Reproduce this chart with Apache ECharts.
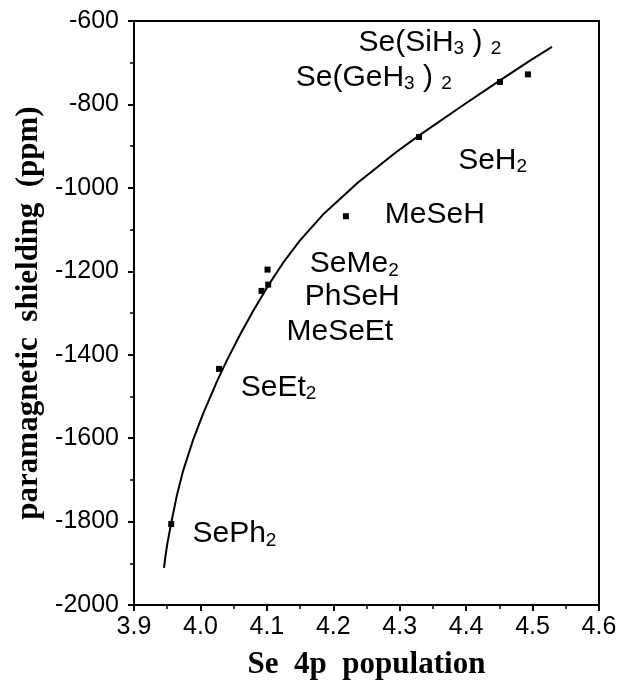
<!DOCTYPE html>
<html>
<head>
<meta charset="utf-8">
<script src="https://cdn.jsdelivr.net/npm/echarts@6/dist/echarts.min.js"></script>
<style>
html,body{margin:0;padding:0;background:#fff;}
#chart{width:632px;height:680px;}
</style>
</head>
<body>
<div id="chart"></div>
<script>
// Data points (Se 4p population, paramagnetic shielding ppm)
const compounds = ['SePh2','SeEt2','MeSeEt','PhSeH','SeMe2','MeSeH','SeH2','Se(GeH3)2','Se(SiH3)2'];
const pointX = [3.956, 4.028, 4.092, 4.102, 4.101, 4.219, 4.329, 4.451, 4.493];
const pointY = [-1806, -1434, -1247, -1232, -1196, -1068, -878, -746, -728];

// Fitted curve
const curveX = [3.9452, 3.9474, 3.9504, 3.9557, 3.9647, 3.9738, 3.9888, 4.0039, 4.0249, 4.0400, 4.0596, 4.0791, 4.1017, 4.1243, 4.1499, 4.1845, 4.2372, 4.2959, 4.3305, 4.3953, 4.4464, 4.4961, 4.5292];
const curveY = [-1911, -1882, -1851, -1806, -1736, -1679, -1605, -1542, -1464, -1413, -1352, -1296, -1235, -1180, -1126, -1064, -987, -913, -873, -802, -747, -695, -662];

// Compound label texts and their anchors (data coordinates)
const labelTexts = ['Se(SiH{s|3} ) {s|2}', 'Se(GeH{s|3} ) {s|2}', 'SeH{s|2}', 'MeSeH', 'SeMe{s|2}', 'PhSeH', 'MeSeEt', 'SeEt{s|2}', 'SePh{s|2}'];
const labelAnchorX = [4.238, 4.1435, 4.388, 4.2775, 4.1646, 4.157, 4.1295, 4.0607, 3.988];
const labelAnchorY = [-651, -735, -934, -1065, -1183, -1261, -1345, -1478, -1830];

// Axis ticks
const xTicks = [3.9, 4.0, 4.1, 4.2, 4.3, 4.4, 4.5, 4.6];
const yTicks = [-2000, -1800, -1600, -1400, -1200, -1000, -800, -600];

const chart = echarts.init(document.getElementById('chart'), null, {renderer: 'canvas'});

const sans = 'Liberation Sans, Arial, Helvetica, sans-serif';
const serif = 'Liberation Serif, Times New Roman, serif';

const option = {
  animation: false,
  backgroundColor: '#fff',
  grid: {
    left: 134, right: 33, top: 21, bottom: 75,
    outerBoundsMode: 'none', containLabel: false,
    show: true, borderColor: '#000', borderWidth: 2, backgroundColor: 'transparent'
  },
  xAxis: {
    type: 'value',
    min: xTicks[0], max: xTicks[xTicks.length - 1], interval: 0.1,
    name: 'Se  4p  population',
    nameLocation: 'middle', nameGap: 44,
    nameTextStyle: {fontFamily: serif, fontWeight: 'bold', fontSize: 31, color: '#000'},
    axisLine: {show: true, lineStyle: {color: '#000', width: 2}},
    axisTick: {show: true, inside: false, length: 6, lineStyle: {color: '#000', width: 2}},
    minorTick: {show: true, splitNumber: 2, length: 4, lineStyle: {color: '#000', width: 1.5}},
    splitLine: {show: false},
    axisLabel: {
      color: '#000', fontFamily: sans, fontSize: 25, margin: 10,
      formatter: v => v.toFixed(1)
    }
  },
  yAxis: {
    type: 'value',
    min: yTicks[0], max: yTicks[yTicks.length - 1], interval: 200,
    name: 'paramagnetic  shielding  (ppm)',
    nameLocation: 'middle', nameGap: 84,
    nameTextStyle: {fontFamily: serif, fontWeight: 'bold', fontSize: 31, color: '#000'},
    axisLine: {show: true, lineStyle: {color: '#000', width: 2}},
    axisTick: {show: true, inside: false, length: 6, lineStyle: {color: '#000', width: 2}},
    minorTick: {show: true, splitNumber: 2, length: 4, lineStyle: {color: '#000', width: 1.5}},
    splitLine: {show: false},
    axisLabel: {color: '#000', fontFamily: sans, fontSize: 25, margin: 15, formatter: v => String(v)}
  },
  series: [
    {
      type: 'line',
      data: curveX.map((x, i) => [x, curveY[i]]),
      showSymbol: false, smooth: false,
      lineStyle: {color: '#000', width: 2},
      z: 2
    },
    {
      type: 'scatter',
      data: pointX.map((x, i) => ({name: compounds[i], value: [x, pointY[i]]})),
      symbol: 'rect', symbolSize: 6,
      itemStyle: {color: '#000', opacity: 1},
      z: 3
    },
    {
      type: 'scatter',
      data: labelAnchorX.map((x, i) => ({value: [x, labelAnchorY[i]], text: labelTexts[i]})),
      symbolSize: 0,
      silent: true,
      itemStyle: {opacity: 1},
      label: {
        show: true, position: 'right', distance: 0,
        formatter: p => p.data.text,
        color: '#000', fontFamily: sans, fontSize: 30, lineHeight: 32,
        rich: {
          s: {fontFamily: sans, fontSize: 19, lineHeight: 19, verticalAlign: 'bottom', color: '#000'}
        }
      },
      z: 4
    }
  ]
};
chart.setOption(option);
</script>
</body>
</html>
